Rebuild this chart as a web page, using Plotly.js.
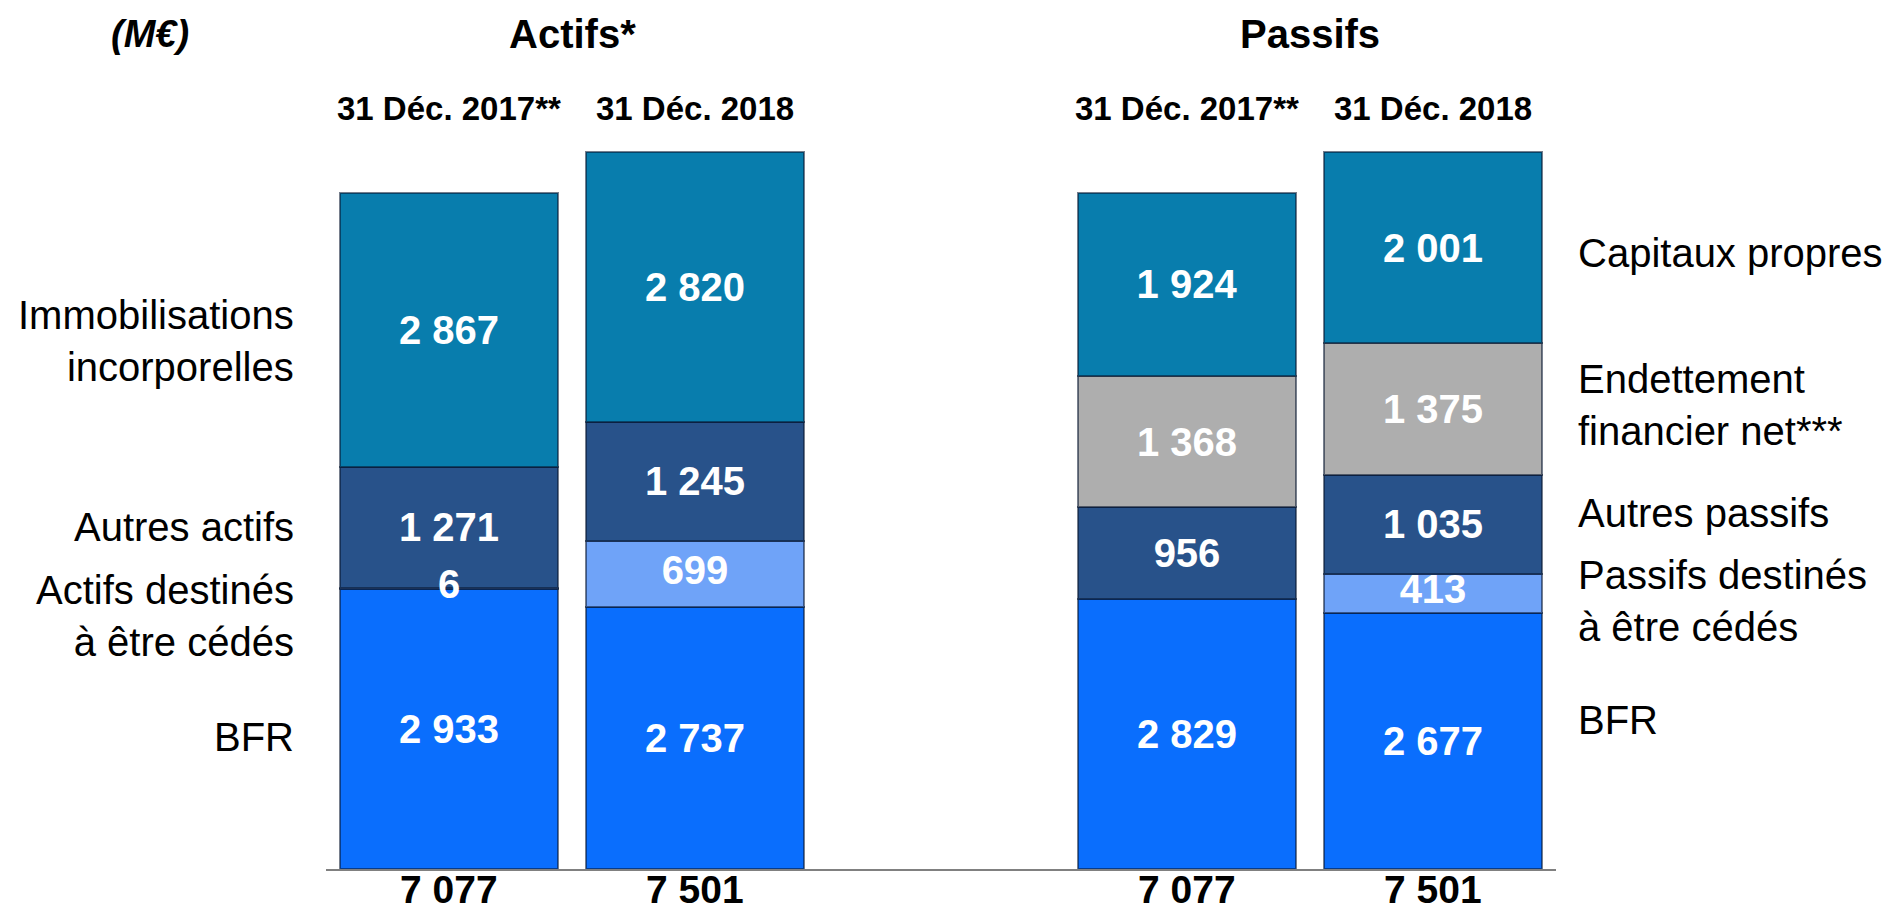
<!DOCTYPE html>
<html><head><meta charset="utf-8">
<script src="https://cdn.plot.ly/plotly-3.0.1.min.js"></script>
<style>html,body{margin:0;padding:0;background:#fff;overflow:hidden}#chart{width:1894px;height:915px}</style>
</head><body><div id="chart"></div>
<script>
// ---------- DATA ----------
const categories = ['Actifs 2017', 'Actifs 2018', ' ', 'Passifs 2017', 'Passifs 2018'];
const dateLabels = ['31 Déc. 2017**', '31 Déc. 2018', '', '31 Déc. 2017**', '31 Déc. 2018'];
const bfr         = [2933, 2737, null, 2829, 2677];
const destines    = [6,    699,  null, null, 413];
const autres      = [1271, 1245, null, 956,  1035];
const endettement = [null, null, null, 1368, 1375];
const hautBilan   = [2867, 2820, null, 1924, 2001];
const groupTitles = ['Actifs*', 'Passifs'];
const unitLabel = '(M€)';
const leftLabels  = [['Immobilisations', 'incorporelles'], ['Autres actifs'], ['Actifs destinés', 'à être cédés'], ['BFR']];
const rightLabels = [['Capitaux propres'], ['Endettement', 'financier net***'], ['Autres passifs'], ['Passifs destinés', 'à être cédés'], ['BFR']];

// ---------- LAYOUT CONSTANTS ----------
const W = 1894, H = 915;
const M = {l: 326, r: 338, t: 123, b: 46};
const plotH = H - M.t - M.b, plotW = W - M.l - M.r;
const py = p => (H - M.b - p) / plotH;     // pixel y -> paper
const px = p => (p - M.l) / plotW;         // pixel x -> paper
const FONT = '"Liberation Sans", Arial, sans-serif';
const leftY  = [341, 527, 616, 737];
const rightY = [253, 405, 513, 601, 720];

const fmt = n => String(n).replace(/\B(?=(\d{3})+(?!\d))/g, ' ');
const series = [
  {name: 'BFR', y: bfr, color: '#0A6EFD', showText: true},
  {name: 'Destinés à être cédés', y: destines, color: '#6FA3F8', showText: false},
  {name: 'Autres', y: autres, color: '#28528A', showText: true},
  {name: 'Endettement financier net', y: endettement, color: '#AEAEAE', showText: true},
  {name: 'Immobilisations / Capitaux propres', y: hautBilan, color: '#087DAD', showText: true}
];
const totals = categories.map((c, i) => series.reduce((s, t) => s + (t.y[i] || 0), 0));
const labelFont = {family: FONT, size: 40, color: '#ffffff', weight: 'bold'};

const traces = series.map(s => ({
  type: 'bar', x: categories, y: s.y, name: s.name,
  marker: {color: s.color, line: {color: 'rgba(5,20,45,0.55)', width: 2}},
  text: s.y.map(v => v == null ? '' : fmt(v)),
  texttemplate: '%{text}',
  textposition: s.showText ? 'inside' : 'none', insidetextanchor: 'middle', constraintext: 'none',
  textfont: labelFont,
  hoverinfo: 'skip'
}));
// labels of the thin "destinés" segments, drawn above all bars
traces.push({
  type: 'scatter', mode: 'text', x: categories,
  y: destines.map((v, i) => v == null ? null : bfr[i] + v / 2),
  text: destines.map(v => v == null ? '' : fmt(v)),
  textposition: 'middle center', textfont: labelFont, cliponaxis: false, hoverinfo: 'skip'
});

const ann = [];
ann.push({text: unitLabel, xref: 'paper', yref: 'paper', x: px(150), xanchor: 'center', y: py(34), yanchor: 'middle',
  showarrow: false, font: {family: FONT, size: 38, color: '#000', weight: 'bold', style: 'italic'}});
groupTitles.forEach((t, i) => ann.push({text: t, xref: 'x', yref: 'paper', x: i === 0 ? 0.5 : 3.5, xanchor: 'center',
  y: py(34), yanchor: 'middle', showarrow: false, font: {family: FONT, size: 40, color: '#000', weight: 'bold'}}));
dateLabels.forEach((d, i) => { if (d) ann.push({text: d, xref: 'x', yref: 'paper', x: i, xanchor: 'center',
  y: py(109), yanchor: 'middle', showarrow: false, font: {family: FONT, size: 33, color: '#000', weight: 'bold'}}); });
totals.forEach((t, i) => { if (t > 0) ann.push({text: fmt(t), xref: 'x', yref: 'paper', x: i, xanchor: 'center',
  y: py(890), yanchor: 'middle', showarrow: false, font: {family: FONT, size: 39, color: '#000', weight: 'bold'}}); });
leftLabels.forEach((lines, i) => ann.push({text: lines.join('<br>'), xref: 'paper', yref: 'paper',
  x: px(296), xanchor: 'right', align: 'right', y: py(leftY[i]), yanchor: 'middle', showarrow: false,
  font: {family: FONT, size: 40, color: '#000'}}));
rightLabels.forEach((lines, i) => ann.push({text: lines.join('<br>'), xref: 'paper', yref: 'paper',
  x: px(1576), xanchor: 'left', align: 'left', y: py(rightY[i]), yanchor: 'middle', showarrow: false,
  font: {family: FONT, size: 40, color: '#000'}}));

const layout = {
  width: W, height: H, margin: M, barmode: 'stack', bargap: 0.11,
  paper_bgcolor: '#fff', plot_bgcolor: '#fff', showlegend: false,
  xaxis: {type: 'category', categoryorder: 'array', categoryarray: categories, range: [-0.5, 4.5],
    showline: true, linecolor: '#808080', linewidth: 2, showgrid: false, zeroline: false, ticks: '',
    showticklabels: false, fixedrange: true},
  yaxis: {range: [0, 7501 * plotH / 717], visible: false, showgrid: false, zeroline: false, fixedrange: true},
  annotations: ann
};
Plotly.newPlot('chart', traces, layout, {displayModeBar: false, staticPlot: true});
</script></body></html>
